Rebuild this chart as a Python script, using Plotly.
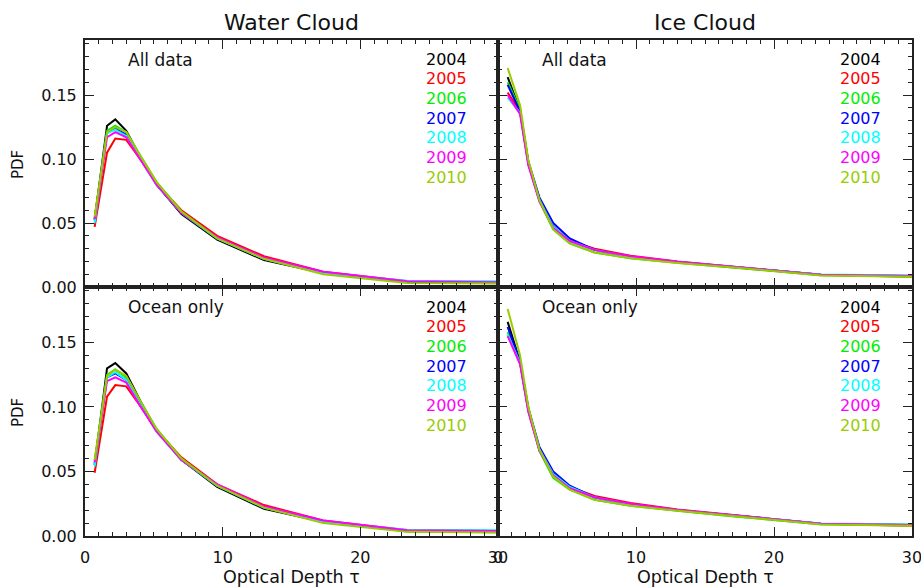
import plotly.graph_objects as go

W, H = 921, 588

years = ["2004", "2005", "2006", "2007", "2008", "2009", "2010"]
colors = ["#000000", "#ff0000", "#00ee00", "#0000ff", "#00ffff", "#ff00ff", "#99cc00"]

tau = [0.7, 1.6, 2.2, 3.0, 4.0, 5.2, 7.0, 9.6, 13.0, 17.3, 23.4, 30.0]

water_all = [
    [0.052, 0.126, 0.131, 0.122, 0.102, 0.080, 0.057, 0.037, 0.021, 0.011, 0.0040, 0.0035],
    [0.047, 0.105, 0.116, 0.115, 0.100, 0.081, 0.060, 0.040, 0.024, 0.012, 0.0045, 0.0038],
    [0.054, 0.122, 0.126, 0.121, 0.103, 0.082, 0.059, 0.038, 0.022, 0.011, 0.0035, 0.0030],
    [0.053, 0.121, 0.124, 0.119, 0.101, 0.080, 0.058, 0.038, 0.022, 0.011, 0.0040, 0.0035],
    [0.050, 0.120, 0.123, 0.118, 0.101, 0.080, 0.058, 0.038, 0.022, 0.011, 0.0048, 0.0045],
    [0.053, 0.117, 0.121, 0.117, 0.100, 0.080, 0.058, 0.039, 0.023, 0.012, 0.0045, 0.0038],
    [0.055, 0.121, 0.125, 0.121, 0.103, 0.082, 0.059, 0.038, 0.022, 0.010, 0.0032, 0.0028],
]
water_ocean = [
    [0.055, 0.130, 0.134, 0.126, 0.105, 0.082, 0.059, 0.038, 0.021, 0.011, 0.0040, 0.0035],
    [0.049, 0.108, 0.117, 0.116, 0.101, 0.082, 0.061, 0.040, 0.024, 0.012, 0.0045, 0.0038],
    [0.058, 0.125, 0.129, 0.123, 0.104, 0.083, 0.060, 0.039, 0.022, 0.011, 0.0035, 0.0030],
    [0.056, 0.123, 0.126, 0.121, 0.102, 0.081, 0.059, 0.039, 0.022, 0.011, 0.0040, 0.0035],
    [0.054, 0.123, 0.127, 0.121, 0.102, 0.081, 0.059, 0.039, 0.022, 0.011, 0.0048, 0.0045],
    [0.057, 0.120, 0.123, 0.119, 0.101, 0.081, 0.059, 0.040, 0.023, 0.012, 0.0045, 0.0038],
    [0.059, 0.124, 0.129, 0.124, 0.105, 0.083, 0.060, 0.039, 0.022, 0.010, 0.0032, 0.0028],
]
ice_all = [
    [0.164, 0.138, 0.097, 0.068, 0.047, 0.036, 0.029, 0.0235, 0.0195, 0.0155, 0.0095, 0.0085],
    [0.152, 0.137, 0.096, 0.068, 0.046, 0.036, 0.030, 0.0245, 0.0200, 0.0158, 0.0095, 0.0080],
    [0.160, 0.139, 0.097, 0.067, 0.045, 0.034, 0.027, 0.0225, 0.0190, 0.0150, 0.0092, 0.0082],
    [0.158, 0.137, 0.098, 0.070, 0.050, 0.038, 0.029, 0.0235, 0.0195, 0.0155, 0.0095, 0.0085],
    [0.148, 0.136, 0.096, 0.068, 0.047, 0.036, 0.029, 0.0235, 0.0195, 0.0155, 0.0097, 0.0090],
    [0.150, 0.135, 0.095, 0.067, 0.046, 0.036, 0.029, 0.0240, 0.0198, 0.0157, 0.0095, 0.0085],
    [0.171, 0.142, 0.099, 0.068, 0.045, 0.034, 0.027, 0.0225, 0.0188, 0.0150, 0.0090, 0.0080],
]
ice_ocean = [
    [0.166, 0.135, 0.098, 0.067, 0.048, 0.038, 0.030, 0.0245, 0.0200, 0.0155, 0.0095, 0.0085],
    [0.156, 0.134, 0.097, 0.067, 0.047, 0.038, 0.031, 0.0255, 0.0205, 0.0160, 0.0095, 0.0080],
    [0.158, 0.136, 0.099, 0.066, 0.045, 0.036, 0.028, 0.0235, 0.0195, 0.0150, 0.0092, 0.0082],
    [0.162, 0.135, 0.099, 0.069, 0.050, 0.039, 0.030, 0.0245, 0.0200, 0.0155, 0.0095, 0.0085],
    [0.156, 0.134, 0.097, 0.067, 0.048, 0.038, 0.030, 0.0245, 0.0200, 0.0155, 0.0097, 0.0090],
    [0.155, 0.133, 0.096, 0.066, 0.047, 0.037, 0.030, 0.0250, 0.0202, 0.0158, 0.0095, 0.0085],
    [0.176, 0.140, 0.100, 0.067, 0.046, 0.036, 0.028, 0.0235, 0.0195, 0.0150, 0.0090, 0.0080],
]

x_ticks = [0, 10, 20, 30]
y_ticks = [0.00, 0.05, 0.10, 0.15]

panels = [
    (water_all, "", "All data"),
    (ice_all, "2", "All data"),
    (water_ocean, "3", "Ocean only"),
    (ice_ocean, "4", "Ocean only"),
]

FONT = "DejaVu Sans"
fig = go.Figure()
for data, sfx, _ in panels:
    for yr, col, vals in zip(years, colors, data):
        fig.add_trace(go.Scatter(
            x=tau, y=vals, mode="lines", name=yr,
            line=dict(color=col, width=2),
            xaxis="x" + sfx, yaxis="y" + sfx, showlegend=False,
        ))

def px(x):
    return x / W

def py(y):
    return 1 - y / H

xl = [px(85), px(498)]
xr = [px(498), px(912)]
yt = [py(287), py(40)]
yb = [py(536), py(287)]

axcol = "#222222"

def xax(dom, anchor, labels):
    return dict(
        domain=dom, anchor=anchor, range=[0, 30], tickvals=x_ticks,
        showticklabels=labels, ticks="inside", ticklen=9, tickwidth=1.2,
        tickcolor=axcol, minor=dict(ticks="inside", dtick=1, ticklen=4, tickcolor=axcol, tickwidth=1),
        showline=True, linecolor=axcol, linewidth=2, mirror="allticks",
        showgrid=False, zeroline=False, ticklabelstandoff=6, automargin=False,
        ticklabeloverflow="allow",
        tickfont=dict(family=FONT, size=16, color="#111111"),
    )

def yax(dom, anchor, labels):
    return dict(
        domain=dom, anchor=anchor, range=[0, 0.193], tickvals=y_ticks,
        tickformat=".2f",
        showticklabels=labels, ticks="inside", ticklen=9, tickwidth=1.2,
        tickcolor=axcol, minor=dict(ticks="inside", dtick=0.01, ticklen=4, tickcolor=axcol, tickwidth=1),
        showline=True, linecolor=axcol, linewidth=2, mirror="allticks",
        showgrid=False, zeroline=False, ticklabelstandoff=3, automargin=False,
        ticklabeloverflow="allow",
        tickfont=dict(family=FONT, size=16, color="#111111"),
    )

ann = []
def text(x, y, s, anchor="center", size=16, color="#111111", angle=0):
    ann.append(dict(x=px(x), y=py(y), xref="paper", yref="paper", text=s,
                    showarrow=False, xanchor=anchor, yanchor="middle",
                    textangle=angle, font=dict(family=FONT, size=size, color=color)))

text(291, 22, "Water Cloud", size=22)
text(705, 22, "Ice Cloud", size=22)
text(291, 577, "Optical Depth τ", size=17.5)
text(705, 577, "Optical Depth τ", size=17.5)
text(18, 165, "PDF", size=15, angle=-90)
text(18, 413, "PDF", size=15, angle=-90)

for dx, right in [(126, 469), (540, 883)]:
    for dy, lab in [(60, "All data"), (307, "Ocean only")]:
        text(dx, dy, lab, anchor="left", size=17)
        base = 59 if dy == 60 else 307
        for i, (yr, col) in enumerate(zip(years, colors)):
            text(right, base + i * 19.7, yr, anchor="right", size=16, color=col)

fig.update_layout(
    width=W, height=H, margin=dict(l=0, r=0, t=0, b=0, autoexpand=False),
    paper_bgcolor="white", plot_bgcolor="white",
    xaxis=xax(xl, "y", False), yaxis=yax(yt, "x", True),
    xaxis2=xax(xr, "y2", False), yaxis2=yax(yt, "x2", False),
    xaxis3=xax(xl, "y3", True), yaxis3=yax(yb, "x3", True),
    xaxis4=xax(xr, "y4", True), yaxis4=yax(yb, "x4", False),
    annotations=ann, showlegend=False,
)

fig.write_html("out.html", config={"displayModeBar": False},
               post_script="document.body.style.margin='0px';document.body.style.overflow='hidden';")
